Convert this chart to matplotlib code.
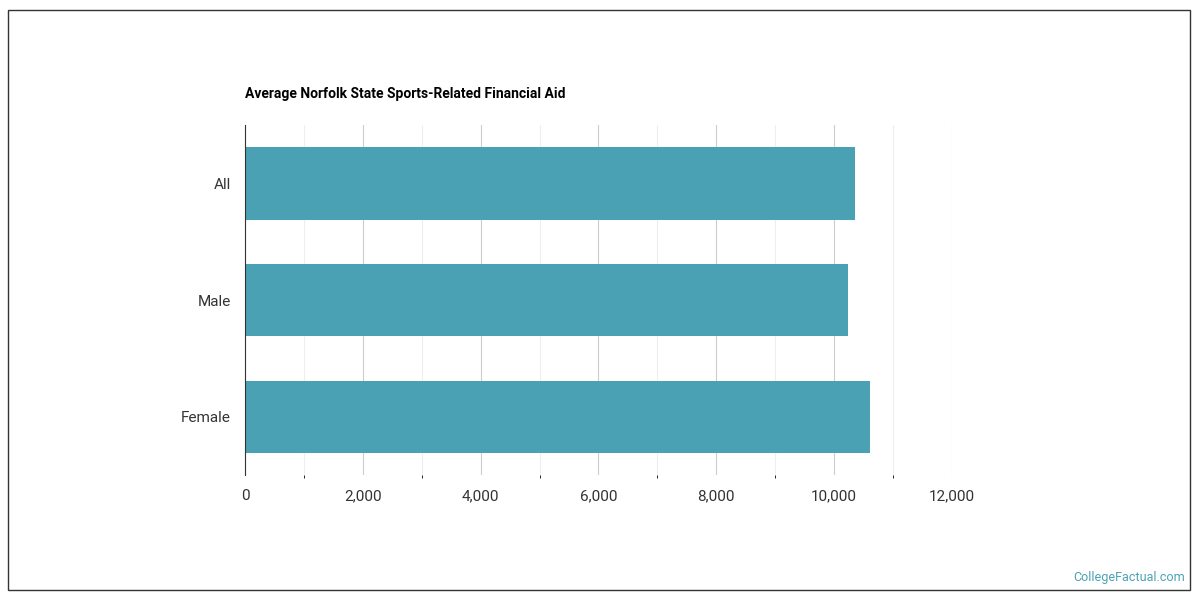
import matplotlib
matplotlib.use("Agg")
import matplotlib.pyplot as plt
from matplotlib.patches import Rectangle

categories = ["All", "Male", "Female"]
values = [10360, 10230, 10600]
ticks = [0, 2000, 4000, 6000, 8000, 10000, 12000]
tick_labels = ["0", "2,000", "4,000", "6,000", "8,000", "10,000", "12,000"]

plt.rcParams["font.family"] = "Roboto"
fig = plt.figure(figsize=(12, 6), dpi=100)
fig.patches.append(Rectangle((8/1200, 10/600), 1182/1200, 580/600, transform=fig.transFigure,
                             fill=False, edgecolor="#333333", linewidth=1))
ax = fig.add_axes([245/1200, 1-475/600, (952-245)/1200, (475-125)/600])
ypos = list(range(len(categories)))
ax.barh(ypos, values, height=0.62, color="#4aa1b3")
ax.set_ylim(2.5, -0.5)
ax.set_xlim(0, 12000)
ax.set_yticks(ypos)
ax.set_yticklabels(categories, fontsize=11, color="#333333")
ax.set_xticks(ticks)
ax.set_xticklabels(tick_labels, fontsize=11, color="#333333")
ax.set_xticks(range(1000, 12000, 2000), minor=True)
ax.grid(axis="x", which="major", color="#cccccc", linewidth=0.8)
ax.grid(axis="x", which="minor", color="#eeeeee", linewidth=0.8)
ax.set_axisbelow(True)
for s in ["top", "right", "bottom"]:
    ax.spines[s].set_visible(False)
ax.spines["left"].set_color("#333333")
ax.tick_params(length=0, pad=10)
fig.text(245/1200, 1-94/600, "Average Norfolk State Sports-Related Financial Aid",
         fontsize=10, fontweight="bold", va="center", ha="left")
fig.text(1185/1200, 1-577/600, "CollegeFactual.com", fontsize=9, color="#4aa1b3",
         ha="right", va="center")
fig.savefig("out.png")
